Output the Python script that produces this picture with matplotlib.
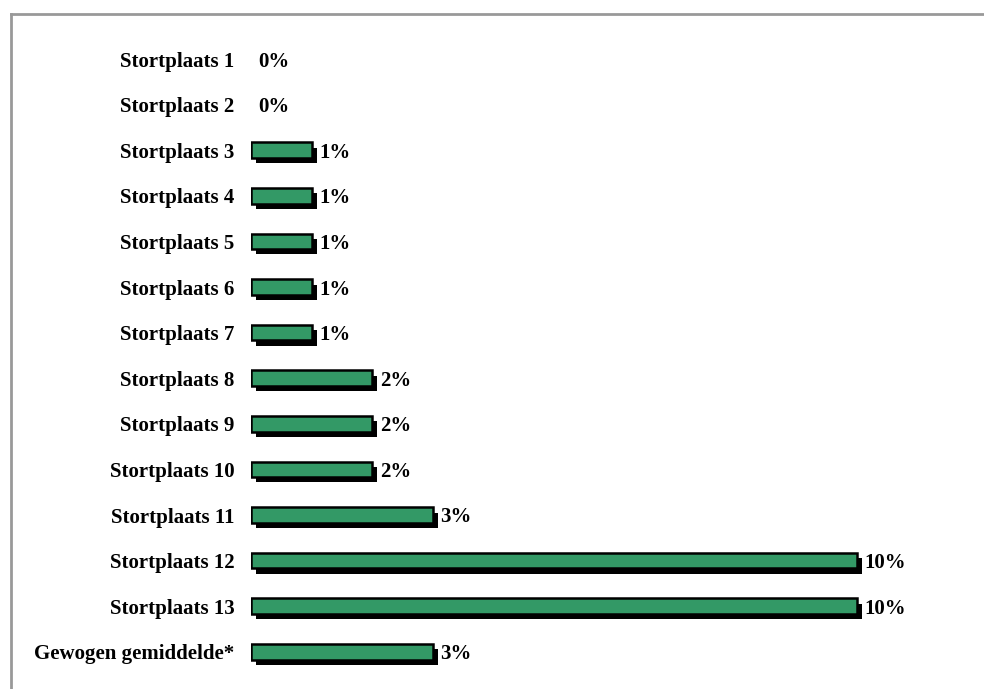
import matplotlib
matplotlib.use("Agg")
import matplotlib.pyplot as plt
import matplotlib.patheffects as pe
from matplotlib.lines import Line2D

categories = ["Stortplaats 1", "Stortplaats 2", "Stortplaats 3", "Stortplaats 4",
              "Stortplaats 5", "Stortplaats 6", "Stortplaats 7", "Stortplaats 8",
              "Stortplaats 9", "Stortplaats 10", "Stortplaats 11", "Stortplaats 12",
              "Stortplaats 13", "Gewogen gemiddelde*"]
values = [0, 0, 1, 1, 1, 1, 1, 2, 2, 2, 3, 10, 10, 3]
value_labels = [f"{v}%" for v in values]

W, H = 984, 689
fig = plt.figure(figsize=(W / 100, H / 100), dpi=100)
fig.patch.set_facecolor("white")

left_px, top_px = 251, 36.2
row_h = 45.6
n = len(categories)
ax_h = n * row_h
ax = fig.add_axes([left_px / W, (H - top_px - ax_h) / H, (W - left_px) / W, ax_h / H])
px_per_unit = 60.6
ax.set_xlim(0, (W - left_px) / px_per_unit)
ax.set_ylim(n - 0.5, -0.5)

ypos = list(range(n))
font = "Liberation Serif"
for y, v in zip(ypos, values):
    if v > 0:
        b = ax.barh(y, v, height=0.34, color="#339966", edgecolor="black", linewidth=1.8)
        for p in b.patches:
            p.set_path_effects([pe.SimplePatchShadow(offset=(3.8, -3.8), shadow_rgbFace="black", alpha=1.0),
                                pe.Normal()])
for y, v, lab in zip(ypos, values, value_labels):
    ax.annotate(lab, xy=(v, y), xytext=(5.0 if v == 0 else 5.5, 0), textcoords="offset points",
                ha="left", va="center_baseline", fontsize=15, fontweight="bold", family=font)

ax.set_yticks(ypos)
ax.set_yticklabels(categories, fontsize=15, fontweight="bold", family=font, va="center_baseline")
ax.tick_params(axis="y", length=0, pad=12)
ax.set_xticks([])
for s in ax.spines.values():
    s.set_visible(False)
ax.patch.set_alpha(0)

# outer frame (gray) at top and left
fig.add_artist(Line2D([11 / W, 11 / W], [0, 1 - 14 / H], color="#999999", linewidth=2, transform=fig.transFigure))
fig.add_artist(Line2D([11 / W, 1], [1 - 14 / H, 1 - 14 / H], color="#999999", linewidth=2, transform=fig.transFigure))

fig.savefig("out.png", dpi=100)
